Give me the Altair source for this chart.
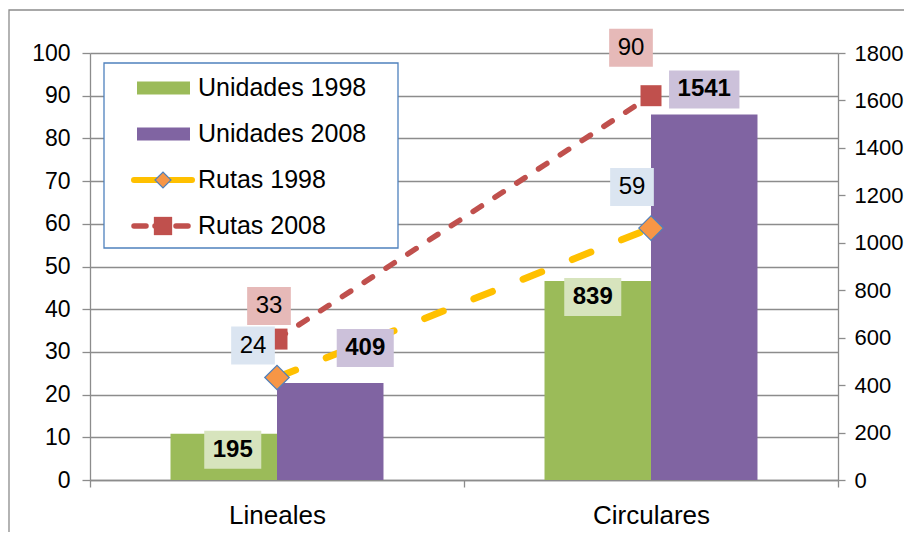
import altair as alt
import pandas as pd

# ---------------- data ----------------
categories = ["Lineales", "Circulares"]
unidades_1998 = [195, 839]
unidades_2008 = [409, 1541]
rutas_1998 = [24, 59]
rutas_2008 = [33, 90]

bar_series = ["Unidades 1998", "Unidades 2008"]
line_series = ["Rutas 1998", "Rutas 2008"]

# ---------------- style / layout ----------------
W, H = 748, 427
BAR_MAX, LINE_MAX = 1800, 100
FONT = "Liberation Sans"
GRID = "#8c8c8c"
colors = {
    "Unidades 1998": "#9bbb59",
    "Unidades 2008": "#8064a2",
    "Rutas 1998": "#ffc000",
    "Rutas 2008": "#c0504d",
}
box_colors = {
    "Unidades 1998": "#d7e4bd",
    "Unidades 2008": "#ccc1da",
    "Rutas 1998": "#dbe5f1",
    "Rutas 2008": "#e6b9b8",
}
HALF_BAND = W / len(categories) / 2
BAR_W = W / 2 / (2 + 2 * 0.756)
# pixel nudges of each data label (centre) from its anchor point
label_nudge = {
    ("Unidades 1998", "Lineales"): (9, 16),
    ("Unidades 1998", "Circulares"): (-5, 16),
    ("Unidades 2008", "Lineales"): (35, -35),
    ("Unidades 2008", "Circulares"): (0, -25),
    ("Rutas 1998", "Lineales"): (-24, -32),
    ("Rutas 1998", "Circulares"): (-19, -41),
    ("Rutas 2008", "Lineales"): (-8, -33),
    ("Rutas 2008", "Circulares"): (-20, -48),
}
LABEL_FS = 24
DIGIT_W = 0.556 * LABEL_FS
BOX_H = 38

# ---------------- tables ----------------
bars_df = pd.DataFrame({
    "category": categories * 2,
    "series": [bar_series[0]] * 2 + [bar_series[1]] * 2,
    "value": unidades_1998 + unidades_2008,
})
lines_df = pd.DataFrame({
    "category": categories * 2,
    "series": [line_series[0]] * 2 + [line_series[1]] * 2,
    "value": rutas_1998 + rutas_2008,
})


def label_table(df, bar, vmax):
    rows = []
    for _, r in df.iterrows():
        nx, ny = label_nudge[(r["series"], r["category"])]
        shift = HALF_BAND
        if bar:
            shift += -BAR_W / 2 if r["series"] == bar_series[0] else BAR_W / 2
        txt = str(r["value"])
        bw = len(txt) * DIGIT_W + 17
        h = BOX_H / bw
        rows.append({
            "category": r["category"],
            "series": r["series"],
            "value": r["value"],
            # label centre expressed in the axis' own units
            "ly": r["value"] - ny * vmax / H,
            "text": txt,
            "ox": shift + nx,
            "bsize": bw * bw,
            "path": f"M-1,-{h:.4f}L1,-{h:.4f}L1,{h:.4f}L-1,{h:.4f}Z",
            "bfill": box_colors[r["series"]],
        })
    return pd.DataFrame(rows)


bar_labels = label_table(bars_df, True, BAR_MAX)
line_labels = label_table(lines_df, False, LINE_MAX)

x_enc = alt.X(
    "category:N", sort=categories,
    scale=alt.Scale(paddingInner=0, paddingOuter=0),
    axis=alt.Axis(
        title=None, labelAngle=0, tickBand="extent", labelFont=FONT,
        labelFontSize=26, labelColor="black", labelPadding=15, tickSize=7,
        tickColor=GRID, domainColor=GRID, domainWidth=1.3, tickWidth=1.3,
        grid=False,
    ),
)
y_bar_scale = alt.Scale(domain=[0, BAR_MAX], nice=False)
y_line_scale = alt.Scale(domain=[0, LINE_MAX], nice=False)

# frame round the whole chart area
frame = alt.Chart(pd.DataFrame({"a": [0]})).mark_rect(
    fill="transparent", stroke=GRID, strokeWidth=1.3
).encode(
    x=alt.value(-81), x2=alt.value(W + 120), y=alt.value(-43), y2=alt.value(H + 120)
)

bars = alt.Chart(bars_df).mark_bar(size=BAR_W).encode(
    x=x_enc,
    xOffset=alt.XOffset(
        "series:N", sort=bar_series,
        scale=alt.Scale(domain=bar_series, paddingInner=0, paddingOuter=0.756),
    ),
    y=alt.Y(
        "value:Q", scale=y_bar_scale,
        axis=alt.Axis(
            orient="right", title=None, values=list(range(0, BAR_MAX + 1, 200)),
            format="d", grid=False, labelFont=FONT, labelFontSize=22,
            labelColor="black", tickSize=7, labelPadding=9, tickColor=GRID,
            domainColor=GRID, domainWidth=1.3, tickWidth=1.3,
        ),
    ),
    color=alt.Color("series:N", scale=alt.Scale(domain=bar_series,
                    range=[colors[s] for s in bar_series]), legend=None),
)

line_y = alt.Y(
    "value:Q", scale=y_line_scale,
    axis=alt.Axis(
        orient="left", title=None, values=list(range(0, LINE_MAX + 1, 10)),
        grid=True, gridColor=GRID, gridWidth=1.3, labelFont=FONT,
        labelFontSize=23, labelColor="black", tickSize=8, labelPadding=12,
        tickColor=GRID, domainColor=GRID, domainWidth=1.3, tickWidth=1.3,
    ),
)
line_y_noaxis = alt.Y("value:Q", scale=y_line_scale, axis=None)

l98 = lines_df[lines_df.series == "Rutas 1998"]
l08 = lines_df[lines_df.series == "Rutas 2008"]

line98 = alt.Chart(l98).mark_line(
    color=colors["Rutas 1998"], strokeWidth=7, strokeDash=[20, 33], strokeCap="round"
).encode(x=x_enc, y=line_y)
line08 = alt.Chart(l08).mark_line(
    color=colors["Rutas 2008"], strokeWidth=5.5, strokeDash=[10, 16], strokeCap="round"
).encode(x=x_enc, y=line_y_noaxis)
pts98 = alt.Chart(l98).mark_point(
    shape="diamond", filled=True, fill="#f79646", stroke="#4f81bd",
    strokeWidth=1.2, size=600, opacity=1
).encode(x=x_enc, y=line_y_noaxis)
pts08 = alt.Chart(l08).mark_point(
    shape="square", filled=True, color=colors["Rutas 2008"], size=441, opacity=1
).encode(x=x_enc, y=line_y_noaxis)

# ---------------- legend (drawn inside plot, top-left) ----------------
legend_df = pd.DataFrame({"series": bar_series + line_series})
legend_df["ly"] = [35 + 46 * i for i in range(len(legend_df))]
legend_df["y1"] = legend_df["ly"] - 6.5
legend_df["y2"] = legend_df["ly"] + 6.5
legend_df["fill"] = [colors[s] for s in legend_df["series"]]

leg_box = alt.Chart(pd.DataFrame({"a": [0]})).mark_rect(
    fill="white", stroke="#4f81bd", strokeWidth=1.3
).encode(x=alt.value(14), x2=alt.value(308), y=alt.value(10), y2=alt.value(195))
leg_sw = alt.Chart(legend_df[legend_df.series.isin(bar_series)]).mark_rect().encode(
    x=alt.value(47), x2=alt.value(100),
    y=alt.Y("y1:Q", scale=None), y2="y2:Q",
    fill=alt.Fill("fill:N", scale=None),
)
leg_l98 = alt.Chart(legend_df[legend_df.series == "Rutas 1998"]).mark_rule(
    color=colors["Rutas 1998"], strokeWidth=6, strokeCap="round"
).encode(x=alt.value(44), x2=alt.value(102), y=alt.Y("ly:Q", scale=None))
leg_l08 = alt.Chart(legend_df[legend_df.series == "Rutas 2008"]).mark_rule(
    color=colors["Rutas 2008"], strokeWidth=5.5, strokeCap="round", strokeDash=[12, 9]
).encode(x=alt.value(44), x2=alt.value(100), y=alt.Y("ly:Q", scale=None))
leg_p98 = alt.Chart(legend_df[legend_df.series == "Rutas 1998"]).mark_point(
    shape="diamond", filled=True, fill="#f79646", stroke="#4f81bd",
    strokeWidth=1.2, size=256, opacity=1
).encode(x=alt.value(73), y=alt.Y("ly:Q", scale=None))
leg_p08 = alt.Chart(legend_df[legend_df.series == "Rutas 2008"]).mark_point(
    shape="square", filled=True, color=colors["Rutas 2008"], size=335, opacity=1
).encode(x=alt.value(73), y=alt.Y("ly:Q", scale=None))
leg_txt = alt.Chart(legend_df).mark_text(
    align="left", baseline="middle", font=FONT, fontSize=25, color="black"
).encode(x=alt.value(108), y=alt.Y("ly:Q", scale=None), text="series:N")

# ---------------- data labels ----------------
def box_layer(df, yscale):
    return alt.Chart(df).mark_point(filled=True, opacity=1, strokeWidth=0).encode(
        x=x_enc,
        y=alt.Y("ly:Q", scale=yscale, axis=None),
        xOffset=alt.XOffset("ox:Q", scale=None),
        shape=alt.Shape("path:N", scale=None),
        size=alt.Size("bsize:Q", scale=None),
        fill=alt.Fill("bfill:N", scale=None),
    )


def text_layer(df, yscale, weight):
    return alt.Chart(df).mark_text(
        font=FONT, fontSize=LABEL_FS, fontWeight=weight, color="black",
        align="center", baseline="middle",
    ).encode(
        x=x_enc,
        y=alt.Y("ly:Q", scale=yscale, axis=None),
        xOffset=alt.XOffset("ox:Q", scale=None),
        text="text:N",
    )


chart = alt.layer(
    frame, bars, line98, line08, pts98, pts08,
    leg_box, leg_sw, leg_l98, leg_l08, leg_p98, leg_p08, leg_txt,
    box_layer(bar_labels, y_bar_scale), box_layer(line_labels, y_line_scale),
    text_layer(bar_labels, y_bar_scale, "bold"),
    text_layer(line_labels, y_line_scale, "normal"),
).resolve_scale(
    y="independent"
).properties(
    width=W, height=H,
    padding={"left": 82, "top": 45, "right": 66, "bottom": 52},
    autosize=alt.AutoSizeParams(type="none"),
    background="white",
).configure_view(stroke=None)

chart.save("out.html", embed_options={"renderer": "svg", "actions": False})
